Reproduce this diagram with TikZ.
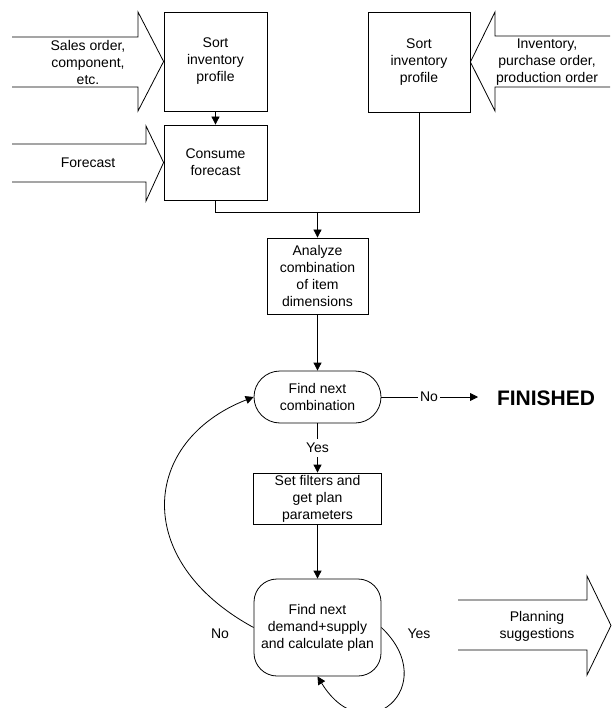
\documentclass[tikz,border=0pt]{standalone}
\usepackage{fontspec}
\setmainfont{Liberation Sans}
\usetikzlibrary{arrows.meta}
\begin{document}
\begin{tikzpicture}[x=1pt,y=-1pt,
  line width=0.8pt,
  every node/.style={font=\fontsize{14}{17}\selectfont, align=center, inner sep=0pt},
  box/.style={draw},
  pill/.style={draw, rounded corners=#1},
  flow/.style={-{Triangle[length=8pt,width=8pt]}},
  bigarrow/.style={line join=miter}]
\useasboundingbox (0,0) rectangle (611,708);

% process steps
\node[box, minimum width=103pt, minimum height=99pt] (sort1) at (215.5,61.5) {Sort\\inventory\\profile};
\node[box, minimum width=103pt, minimum height=75pt] (consume) at (215.5,162.5) {Consume\\forecast};
\node[box, minimum width=102pt, minimum height=100pt] (sort2) at (419,62) {Sort\\inventory\\profile};
\node[box, minimum width=101pt, minimum height=76pt] (analyze) at (317.5,276) {Analyze\\combination\\of item\\dimensions};
\node[pill=26pt, minimum width=127pt, minimum height=52pt] (combo) at (317.5,397) {Find next\\combination};
\node[box, minimum width=128pt, minimum height=51pt] (setf) at (317.5,498.5) {Set filters and\\get plan\\parameters};
\node[pill=23pt, minimum width=127pt, minimum height=97pt] (demand) at (317.5,627.5) {Find next\\demand+supply\\and calculate plan};
\node[font=\fontsize{21}{24}\selectfont\bfseries] (finished) at (546,398) {FINISHED};

% input and output arrows
\draw[bigarrow] (12,37) -- (138,37) -- (138,12) -- (sort1.west) -- (138,111) -- (138,87) -- (12,87);
\node (salesin) at (88,62) {Sales order,\\component,\\etc.};
\draw[bigarrow] (12,144) -- (146,144) -- (146,126) -- (consume.west) -- (146,201) -- (146,182) -- (12,182);
\node (fcin) at (88,163) {Forecast};
\draw[bigarrow] (610,36) -- (495,36) -- (495,12) -- (sort2.east) -- (495,111) -- (495,87) -- (610,87);
\node (invin) at (547,62) {Inventory,\\purchase order,\\production order};
\draw[bigarrow] (458,600) -- (587,600) -- (587,576) -- (611,625.5) -- (587,675) -- (587,650) -- (458,650);
\node (planout) at (537,626) {Planning\\suggestions};

% connectors
\draw[flow] (sort1) -- (consume);
\coordinate (join) at (317.5,212);
\draw (consume.south) |- (join);
\draw (sort2.south) |- (join);
\draw[flow] (join) -- (analyze.north);
\draw[flow] (analyze) -- (combo);

\node[inner xsep=2pt] (nolab) at (429,397) {No};
\draw (combo.east) -- (nolab.west);
\draw[flow] (nolab.east) -- (478,397);

\node[inner ysep=4pt] (yeslab) at (317.5,448) {Yes};
\draw (combo.south) -- (yeslab.north);
\draw[flow] (yeslab.south) -- (setf.north);
\draw[flow] (setf) -- (demand);

\draw[flow] (demand.west) .. controls (131,561) and (141,441) .. (combo.west);
\node (nolab2) at (220,634) {No};
\draw[flow] (demand.east) .. controls (443,686) and (365,754) .. (demand.south);
\node (yeslab2) at (419,634) {Yes};
\end{tikzpicture}
\end{document}
